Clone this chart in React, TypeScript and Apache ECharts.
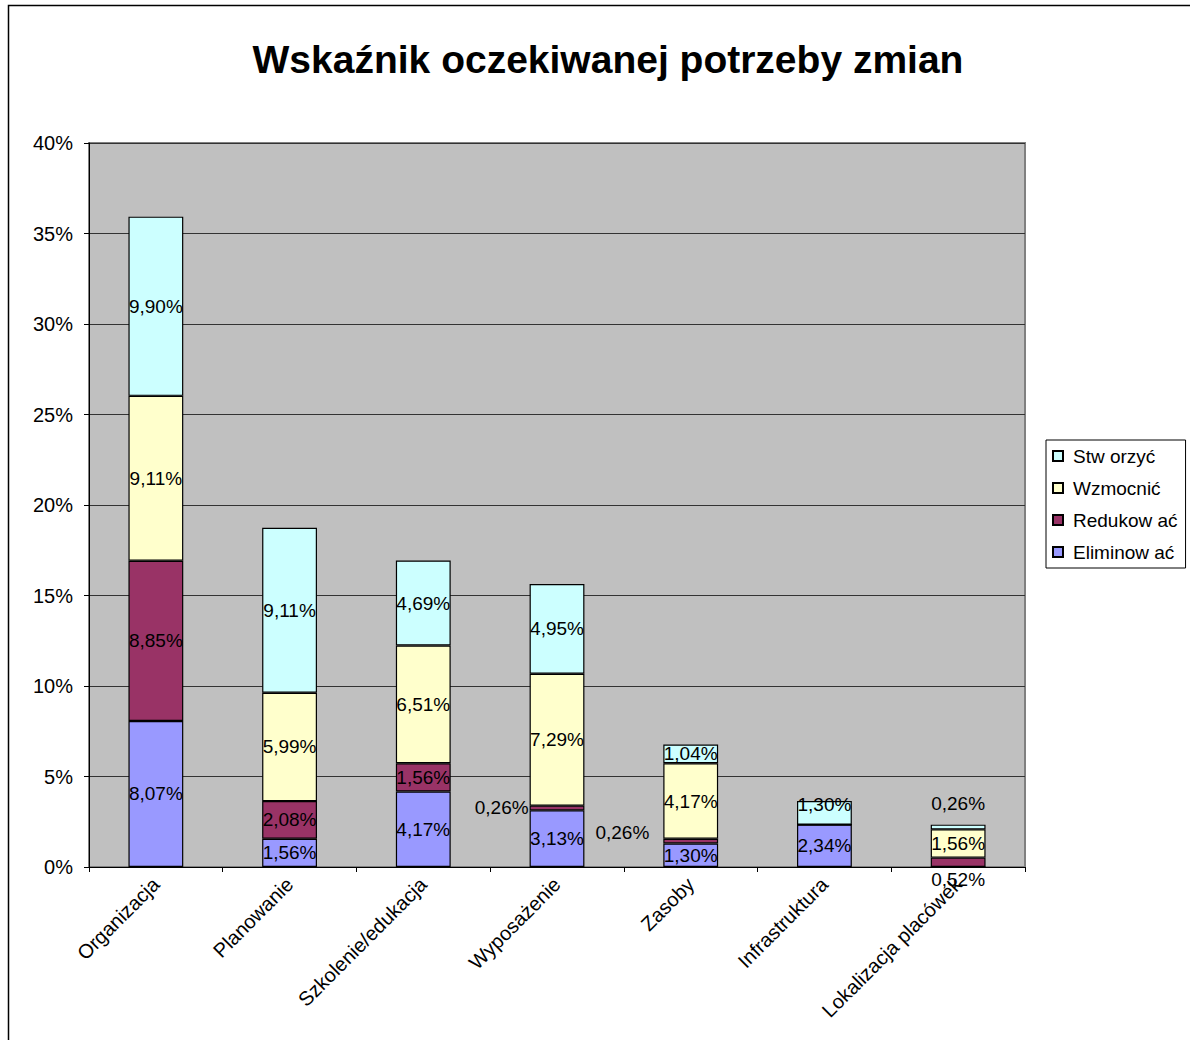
import React, { useEffect, useRef } from "react";
import * as echarts from "echarts";

const title = "Wskaźnik oczekiwanej potrzeby zmian";
const categories = [
  "Organizacja",
  "Planowanie",
  "Szkolenie/edukacja",
  "Wyposażenie",
  "Zasoby",
  "Infrastruktura",
  "Lokalizacja placówek",
];
const seriesNames = ["Eliminow ać", "Redukow ać", "Wzmocnić", "Stw orzyć"];
const eliminowac = [8.07, 1.56, 4.17, 3.13, 1.3, 2.34, 0];
const redukowac = [8.85, 2.08, 1.56, 0.26, 0.26, 0, 0.52];
const wzmocnic = [9.11, 5.99, 6.51, 7.29, 4.17, 0, 1.56];
const stworzyc = [9.9, 9.11, 4.69, 4.95, 1.04, 1.3, 0.26];
const yTicks = { min: 0, max: 40, interval: 5 };

const colors = ["#9999FF", "#993366", "#FFFFCC", "#CCFFFF"];
const FONT = 'Arial, "Liberation Sans", sans-serif';

// label placement overrides: [seriesIndex, categoryIndex] -> label opts
const labelOverrides: Record<string, any> = {
  "1-3": { position: "left", distance: 1 },
  "1-4": { position: "left", distance: 14, offset: [0, -9] },
  "3-5": { position: "inside", offset: [0, -8] },
  "3-6": { position: "top", distance: 12 },
  "1-6": { position: "bottom", distance: 3 },
};

const fmt = (v: number) => (v ? v.toFixed(2).replace(".", ",") + "%" : "");

export default function App() {
  const ref = useRef<HTMLDivElement>(null);
  useEffect(() => {
    const chart = echarts.init(ref.current!, undefined, { renderer: "svg" });
    const all = [eliminowac, redukowac, wzmocnic, stworzyc];
    const series = all.map((arr, si) => ({
      name: seriesNames[si],
      type: "bar",
      stack: "total",
      barWidth: "41%",
      itemStyle: { color: colors[si], borderColor: "#000", borderWidth: 1.2 },
      label: {
        show: true,
        position: "inside",
        color: "#000",
        fontFamily: FONT,
        fontSize: 19,
        textBorderWidth: 0,
        formatter: (p: any) => fmt(p.value),
      },
      data: arr.map((v, ci) => {
        const o = labelOverrides[`${si}-${ci}`];
        return o ? { value: v, label: o } : { value: v };
      }),
    }));
    chart.setOption({
      animation: false,
      backgroundColor: "#fff",
      title: {
        text: title,
        left: 603,
        textAlign: "center",
        top: 35,
        textStyle: { fontFamily: FONT, fontSize: 39, fontWeight: "bold", color: "#000" },
      },
      graphic: [
        {
          type: "rect",
          shape: { x: 8.5, y: 5.5, width: 1300, height: 1200 },
          style: { fill: "none", stroke: "#000", lineWidth: 1.5 },
          silent: true,
        },
      ],
      legend: {
        orient: "vertical",
        left: 1046,
        top: 440,
        data: [seriesNames[3], seriesNames[2], seriesNames[1], seriesNames[0]],
        itemWidth: 10,
        itemHeight: 10,
        itemGap: 12,
        padding: [6, 8, 6, 6],
        borderColor: "#000",
        borderWidth: 1,
        icon: "rect",
        textStyle: {
          fontFamily: FONT,
          fontSize: 19,
          color: "#000",
          lineHeight: 20,
          padding: [0, 0, 0, 5],
        },
      },
      grid: {
        left: 89,
        top: 143,
        right: 165,
        bottom: 173,
        show: true,
        backgroundColor: "#C0C0C0",
        borderColor: "#808080",
        borderWidth: 2,
      },
      xAxis: {
        type: "category",
        data: categories,
        axisLine: { lineStyle: { color: "#000", width: 1 } },
        axisTick: { show: true, length: 5, lineStyle: { color: "#000" } },
        axisLabel: {
          rotate: 45,
          interval: 0,
          margin: 14,
          color: "#000",
          fontFamily: FONT,
          fontSize: 20,
        },
      },
      yAxis: {
        type: "value",
        min: yTicks.min,
        max: yTicks.max,
        interval: yTicks.interval,
        axisLine: { show: true, lineStyle: { color: "#000", width: 1 } },
        axisTick: { show: true, length: 5, lineStyle: { color: "#000" } },
        splitLine: { show: true, lineStyle: { color: "#333", width: 1 } },
        axisLabel: {
          formatter: "{value}%",
          color: "#000",
          fontFamily: FONT,
          fontSize: 20,
          margin: 16,
        },
      },
      series,
    });
    return () => chart.dispose();
  }, []);
  return (
    <div
      ref={ref}
      style={{ position: "fixed", left: 0, top: 0, width: 1190, height: 1040 }}
    />
  );
}
